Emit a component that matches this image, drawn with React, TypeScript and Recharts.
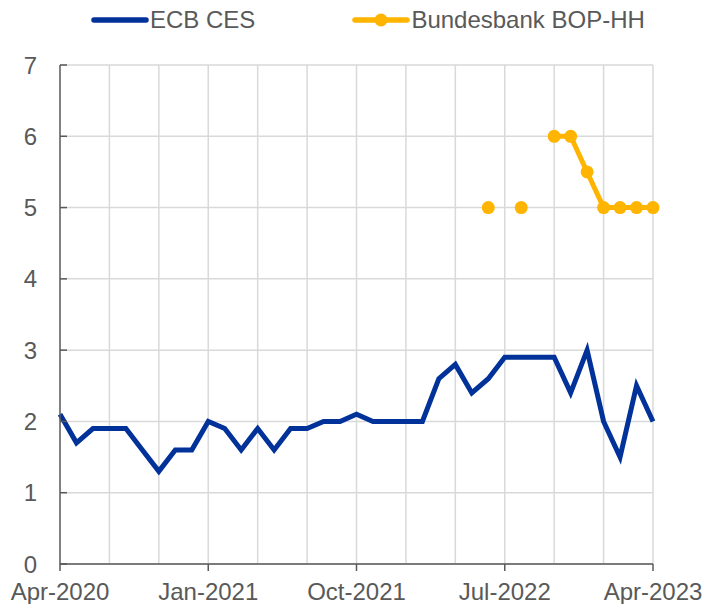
import { LineChart, Line, XAxis, YAxis, CartesianGrid, ReferenceLine } from 'recharts';

const MONTHS = [
  'Apr-2020', 'May-2020', 'Jun-2020', 'Jul-2020', 'Aug-2020', 'Sep-2020', 'Oct-2020', 'Nov-2020', 'Dec-2020',
  'Jan-2021', 'Feb-2021', 'Mar-2021', 'Apr-2021', 'May-2021', 'Jun-2021', 'Jul-2021', 'Aug-2021', 'Sep-2021',
  'Oct-2021', 'Nov-2021', 'Dec-2021', 'Jan-2022', 'Feb-2022', 'Mar-2022', 'Apr-2022', 'May-2022', 'Jun-2022',
  'Jul-2022', 'Aug-2022', 'Sep-2022', 'Oct-2022', 'Nov-2022', 'Dec-2022', 'Jan-2023', 'Feb-2023', 'Mar-2023',
  'Apr-2023',
];

const ECB_CES = [
  2.1, 1.7, 1.9, 1.9, 1.9, 1.6, 1.3, 1.6, 1.6,
  2.0, 1.9, 1.6, 1.9, 1.6, 1.9, 1.9, 2.0, 2.0,
  2.1, 2.0, 2.0, 2.0, 2.0, 2.6, 2.8, 2.4, 2.6,
  2.9, 2.9, 2.9, 2.9, 2.4, 3.0, 2.0, 1.5, 2.5,
  2.0,
];

const BUNDESBANK = [
  null, null, null, null, null, null, null, null, null,
  null, null, null, null, null, null, null, null, null,
  null, null, null, null, null, null, null, null, 5,
  null, 5, null, 6, 6, 5.5, 5, 5, 5,
  5,
];

const X_TICKS = ['Apr-2020', 'Jan-2021', 'Oct-2021', 'Jul-2022', 'Apr-2023'];
// vertical gridlines every quarter
const GRID_MONTHS = ['Jul-2020', 'Oct-2020', 'Jan-2021', 'Apr-2021', 'Jul-2021', 'Oct-2021', 'Jan-2022', 'Apr-2022', 'Jul-2022', 'Oct-2022', 'Jan-2023', 'Apr-2023'];
const Y_TICKS = [0, 1, 2, 3, 4, 5, 6, 7];

const BLUE = '#003299';
const YELLOW = '#FFB400';
const TEXT = '#595959';
const GRID = '#d9d9d9';
const FONT = "Arial, 'Liberation Sans', sans-serif";
const AXIS_X = 60;

const data = MONTHS.map((month, i) => ({ month, ecb: ECB_CES[i], bbk: BUNDESBANK[i] }));

// y ticks point inward, labels sit left of the axis
const YTick = ({ y, payload }: { y?: number; payload?: { value: number } }) => (
  <g>
    <line x1={AXIS_X} x2={AXIS_X + 7} y1={y} y2={y} stroke={TEXT} strokeWidth={1.5} />
    <text x={37} y={y} dy="0.36em" textAnchor="end" fill={TEXT} fontSize={24} fontFamily={FONT}>
      {payload?.value}
    </text>
  </g>
);

const TopLegend = () => (
  <div
    style={{
      position: 'absolute', left: 0, top: 6, display: 'flex', alignItems: 'center',
      fontFamily: FONT, fontSize: 24, color: TEXT, lineHeight: '28px',
    }}
  >
    <svg width={58} height={14} style={{ marginLeft: 91 }}>
      <line x1={3} x2={55} y1={7} y2={7} stroke={BLUE} strokeWidth={5.5} strokeLinecap="round" />
    </svg>
    <span style={{ marginLeft: 1 }}>ECB CES</span>
    <svg width={58} height={16} style={{ marginLeft: 97 }}>
      <line x1={3} x2={55} y1={8} y2={8} stroke={YELLOW} strokeWidth={5.5} strokeLinecap="round" />
      <circle cx={29} cy={8} r={6.5} fill={YELLOW} />
    </svg>
    <span style={{ marginLeft: 1 }}>Bundesbank BOP-HH</span>
  </div>
);

export default function App() {
  return (
    <div style={{ position: 'absolute', left: 0, top: 0, width: 705, height: 604, background: '#fff' }}>
      <LineChart width={705} height={604} data={data} margin={{ top: 65, right: 52, left: 0, bottom: 0 }}>
        <CartesianGrid vertical={false} stroke={GRID} strokeWidth={1.5} />
        {GRID_MONTHS.map((m) => (
          <ReferenceLine key={m} x={m} stroke={GRID} strokeWidth={1.5} />
        ))}
        <XAxis
          dataKey="month"
          ticks={X_TICKS}
          interval={0}
          height={40}
          tickSize={7}
          tickMargin={12}
          stroke={TEXT}
          strokeWidth={1.5}
          tick={{ fill: TEXT, fontSize: 24, fontFamily: FONT }}
        />
        <YAxis
          domain={[0, 7]}
          ticks={Y_TICKS}
          width={60}
          tickLine={false}
          stroke={TEXT}
          strokeWidth={1.5}
          tick={<YTick />}
          interval={0}
        />
        <Line
          dataKey="ecb"
          stroke={BLUE}
          strokeWidth={5}
          dot={false}
          strokeLinejoin="miter"
          isAnimationActive={false}
        />
        <Line
          dataKey="bbk"
          stroke={YELLOW}
          strokeWidth={5}
          dot={{ r: 6.5, fill: YELLOW, stroke: YELLOW, strokeWidth: 0 }}
          connectNulls={false}
          isAnimationActive={false}
        />
      </LineChart>
      <TopLegend />
    </div>
  );
}
